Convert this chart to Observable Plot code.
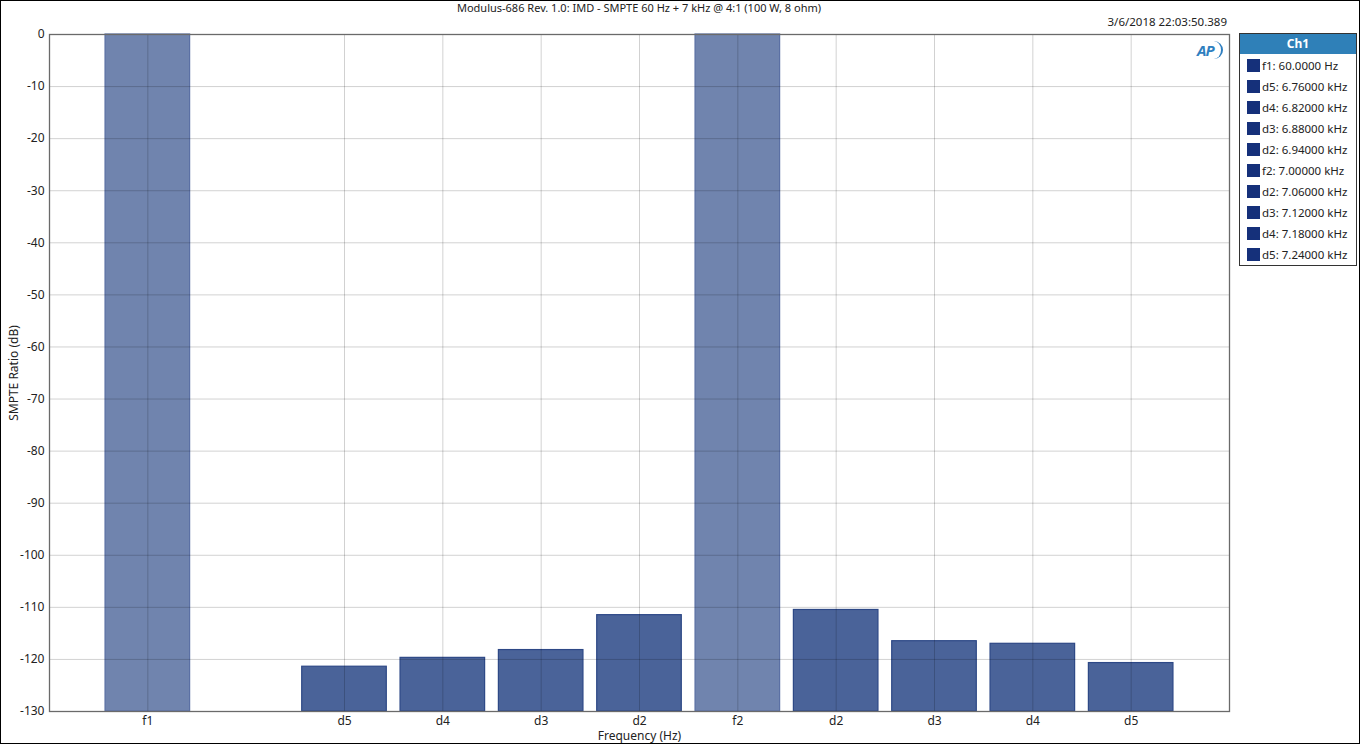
<!DOCTYPE html>
<html>
<head>
<meta charset="utf-8">
<script src="https://cdn.jsdelivr.net/npm/d3@7"></script>
<script src="https://cdn.jsdelivr.net/npm/@observablehq/plot@0.6"></script>
<style>
  html, body { margin: 0; padding: 0; background: #fff; }
  #page { position: relative; width: 1360px; height: 744px; box-sizing: border-box; border: 1px solid #000; overflow: hidden; font-family: "Noto Sans", "Open Sans", sans-serif; color: #222; }
  #chart { position: absolute; left: -1px; top: -1px; }
  #title { position: absolute; left: 0; width: 1276px; top: -1px; text-align: center; font-size: 11px; line-height: 15px; }
  #date { position: absolute; right: 132px; top: 13px; font-size: 11.5px; line-height: 15px; }
  #logo { position: absolute; left: 1196px; top: 40px; width: 24px; height: 18px; font-size: 15px; line-height: 18px; font-weight: bold; font-style: italic; color: #2f7fc0; letter-spacing: -1px; border-right: 2px solid #2f7fc0; border-radius: 0 12px 12px 0; }
  #legend { position: absolute; left: 1238px; top: 32px; width: 116px; height: 231px; border: 1px solid #333; background: #fff; }
  #legend .head { background: #2f80b8; color: #fff; font-weight: bold; text-align: center; font-size: 12px; height: 20px; line-height: 20px; border-bottom: 1px solid #fff; }
  #legend .row { position: relative; height: 21px; font-size: 11.5px; line-height: 21px; padding-left: 22px; white-space: nowrap; }
  #legend .sw { position: absolute; left: 7px; top: 4px; width: 13px; height: 13px; background: #15307a; }
</style>
</head>
<body>
<div id="page">
  <div id="chart"></div>
  <div id="title"></div>
  <div id="date"></div>
  <div id="logo">AP</div>
  <div id="legend"></div>
</div>
<script>
// ---- data ----
const titleText = "Modulus-686 Rev. 1.0: IMD - SMPTE 60 Hz + 7 kHz @ 4:1 (100 W, 8 ohm)";
const dateText = "3/6/2018 22:03:50.389";
const slotKeys   = ["f1", "gap", "d5a", "d4a", "d3a", "d2a", "f2", "d2b", "d3b", "d4b", "d5b"];
const tickLabels = ["f1", "",    "d5",  "d4",  "d3",  "d2",  "f2", "d2",  "d3",  "d4",  "d5"];
const barKeys    = ["f1", "d5a", "d4a", "d3a", "d2a", "f2", "d2b", "d3b", "d4b", "d5b"];
const barValues  = [0, -121.4, -119.7, -118.2, -111.5, 0, -110.5, -116.5, -117.0, -120.7];
const barKinds   = ["f", "d", "d", "d", "d", "f", "d", "d", "d", "d"];
const legendLabels = ["f1: 60.0000 Hz", "d5: 6.76000 kHz", "d4: 6.82000 kHz", "d3: 6.88000 kHz", "d2: 6.94000 kHz",
                      "f2: 7.00000 kHz", "d2: 7.06000 kHz", "d3: 7.12000 kHz", "d4: 7.18000 kHz", "d5: 7.24000 kHz"];
const yTicks = d3.range(0, -131, -10);
const yMin = -130, yMax = 0;

const bars = barKeys.map((k, i) => ({key: k, value: barValues[i], kind: barKinds[i]}));
const labelOf = new Map(slotKeys.map((k, i) => [k, tickLabels[i]]));

const plot = Plot.plot({
  width: 1236,
  height: 745,
  marginLeft: 49,
  marginRight: 7,
  marginTop: 34,
  marginBottom: 34,
  style: {fontFamily: "'Noto Sans', 'Open Sans', sans-serif", fontSize: "12px", color: "#222", background: "transparent"},
  x: {type: "band", domain: slotKeys, paddingInner: 0.14, paddingOuter: 0.57, round: false, axis: null},
  y: {domain: [yMin, yMax], axis: null},
  marks: [
    Plot.barY(bars, {
      x: "key", y1: yMin, y2: "value",
      fill: d => d.kind === "f" ? "#7084ae" : "#4a6399",
      stroke: d => d.kind === "f" ? "#5a6fa3" : "#2d4886",
      strokeWidth: 1.2
    }),
    Plot.gridX(barKeys, {x: d => d, stroke: "#000", strokeOpacity: 0.18}),
    Plot.gridY(yTicks, {y: d => d, stroke: "#000", strokeOpacity: 0.18}),
    Plot.frame({stroke: "#6a6a6a", strokeWidth: 1.3}),
    Plot.axisY(yTicks, {tickSize: 0, tickPadding: 5, tickFormat: d => String(d),
      label: "SMPTE Ratio (dB)", labelAnchor: "center", labelArrow: "none", labelOffset: 40, fontSize: 12}),
    Plot.axisX(barKeys, {tickSize: 0, tickPadding: 5, tickFormat: k => labelOf.get(k),
      label: "Frequency (Hz)", labelAnchor: "center", labelArrow: "none", labelOffset: 28, fontSize: 12})
  ]
});
document.getElementById("chart").appendChild(plot);
document.getElementById("title").textContent = titleText;
document.getElementById("date").textContent = dateText;
const lg = document.getElementById("legend");
const head = document.createElement("div");
head.className = "head"; head.textContent = "Ch1";
lg.appendChild(head);
legendLabels.forEach(t => {
  const r = document.createElement("div");
  r.className = "row";
  const s = document.createElement("span"); s.className = "sw";
  r.appendChild(s);
  r.appendChild(document.createTextNode(t));
  lg.appendChild(r);
});
</script>
</body>
</html>
